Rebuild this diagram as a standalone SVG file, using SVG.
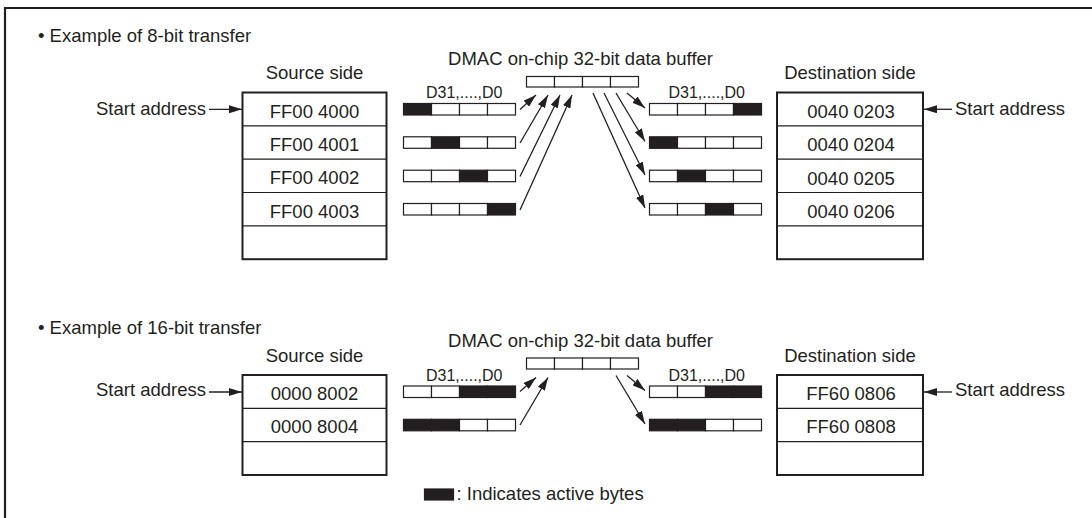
<svg xmlns="http://www.w3.org/2000/svg" width="1092" height="518" viewBox="0 0 1092 518">
<defs>
<style>
.t{font-family:"Liberation Sans",Arial,Helvetica,sans-serif;font-size:18.5px;fill:#231f20}
.s{font-size:16px}
.m{text-anchor:middle}
.box{fill:none;stroke:#231f20;stroke-width:2}
.dv{stroke:#231f20;stroke-width:1.2}
.c{fill:#fff;stroke:#231f20;stroke-width:1.2}
.on{fill:#231f20;stroke:#231f20;stroke-width:1.2}
.ar{stroke:#231f20;stroke-width:1.3;fill:none;marker-end:url(#ah)}
</style>
<marker id="ah" viewBox="0 0 13 8" markerWidth="13" markerHeight="8" refX="13" refY="4" orient="auto" markerUnits="userSpaceOnUse">
<path d="M0,0 L13,4 L0,8 z" fill="#231f20"/>
</marker>
</defs>
<rect width="1092" height="518" fill="#fff"/>
<path d="M5,518 V8 H1092" fill="none" stroke="#231f20" stroke-width="2.2"/>

<!-- ===== 8-bit transfer ===== -->
<text class="t" x="38" y="42">• Example of 8-bit transfer</text>

<g id="src8">
<text class="t m" x="314.5" y="78.5">Source side</text>
<rect class="box" x="242.5" y="92.5" width="144" height="166.7"/>
<line class="dv" x1="242.5" y1="125.8" x2="386.5" y2="125.8"/>
<line class="dv" x1="242.5" y1="159.2" x2="386.5" y2="159.2"/>
<line class="dv" x1="242.5" y1="192.5" x2="386.5" y2="192.5"/>
<line class="dv" x1="242.5" y1="225.8" x2="386.5" y2="225.8"/>
<text class="t m" x="314.5" y="117.5">FF00 4000</text>
<text class="t m" x="314.5" y="150.8">FF00 4001</text>
<text class="t m" x="314.5" y="184.2">FF00 4002</text>
<text class="t m" x="314.5" y="217.5">FF00 4003</text>
</g>

<g id="srcstart8">
<text class="t" x="96" y="115">Start address</text>
</g>

<g id="buf8">
<text class="t m" x="580.5" y="65">DMAC on-chip 32-bit data buffer</text>
<rect class="c" x="526.5" y="76.5" width="28" height="10.5"/>
<rect class="c" x="554.5" y="76.5" width="28" height="10.5"/>
<rect class="c" x="582.5" y="76.5" width="28" height="10.5"/>
<rect class="c" x="610.5" y="76.5" width="28" height="10.5"/>
</g>

<g id="srcbytes8">
<text class="t s" x="426" y="98.3">D31,....,D0</text>
<rect class="on" x="403.5" y="103.5" width="28" height="11.5"/>
<rect class="c" x="431.5" y="103.5" width="28" height="11.5"/>
<rect class="c" x="459.5" y="103.5" width="28" height="11.5"/>
<rect class="c" x="487.5" y="103.5" width="28" height="11.5"/>

<rect class="c" x="403.5" y="136.8" width="28" height="11.5"/>
<rect class="on" x="431.5" y="136.8" width="28" height="11.5"/>
<rect class="c" x="459.5" y="136.8" width="28" height="11.5"/>
<rect class="c" x="487.5" y="136.8" width="28" height="11.5"/>

<rect class="c" x="403.5" y="170.2" width="28" height="11.5"/>
<rect class="c" x="431.5" y="170.2" width="28" height="11.5"/>
<rect class="on" x="459.5" y="170.2" width="28" height="11.5"/>
<rect class="c" x="487.5" y="170.2" width="28" height="11.5"/>

<rect class="c" x="403.5" y="203.5" width="28" height="11.5"/>
<rect class="c" x="431.5" y="203.5" width="28" height="11.5"/>
<rect class="c" x="459.5" y="203.5" width="28" height="11.5"/>
<rect class="on" x="487.5" y="203.5" width="28" height="11.5"/>
</g>

<g id="dstbytes8">
<text class="t s" x="668.5" y="98.3">D31,....,D0</text>
<rect class="c" x="649.5" y="103.5" width="28" height="11.5"/>
<rect class="c" x="677.5" y="103.5" width="28" height="11.5"/>
<rect class="c" x="705.5" y="103.5" width="28" height="11.5"/>
<rect class="on" x="733.5" y="103.5" width="28" height="11.5"/>

<rect class="on" x="649.5" y="136.8" width="28" height="11.5"/>
<rect class="c" x="677.5" y="136.8" width="28" height="11.5"/>
<rect class="c" x="705.5" y="136.8" width="28" height="11.5"/>
<rect class="c" x="733.5" y="136.8" width="28" height="11.5"/>

<rect class="c" x="649.5" y="170.2" width="28" height="11.5"/>
<rect class="on" x="677.5" y="170.2" width="28" height="11.5"/>
<rect class="c" x="705.5" y="170.2" width="28" height="11.5"/>
<rect class="c" x="733.5" y="170.2" width="28" height="11.5"/>

<rect class="c" x="649.5" y="203.5" width="28" height="11.5"/>
<rect class="c" x="677.5" y="203.5" width="28" height="11.5"/>
<rect class="on" x="705.5" y="203.5" width="28" height="11.5"/>
<rect class="c" x="733.5" y="203.5" width="28" height="11.5"/>
</g>

<g id="dst8">
<text class="t m" x="850" y="79">Destination side</text>
<rect class="box" x="777" y="92.5" width="146" height="166.7"/>
<line class="dv" x1="777" y1="125.8" x2="923" y2="125.8"/>
<line class="dv" x1="777" y1="159.2" x2="923" y2="159.2"/>
<line class="dv" x1="777" y1="192.5" x2="923" y2="192.5"/>
<line class="dv" x1="777" y1="225.8" x2="923" y2="225.8"/>
<text class="t m" x="851" y="117.8">0040 0203</text>
<text class="t m" x="851" y="151.1">0040 0204</text>
<text class="t m" x="851" y="184.5">0040 0205</text>
<text class="t m" x="851" y="217.8">0040 0206</text>
</g>

<g id="dststart8">
<text class="t" x="955" y="115">Start address</text>
</g>

<!-- ===== 16-bit transfer ===== -->
<text class="t" x="38" y="334">• Example of 16-bit transfer</text>

<g id="src16">
<text class="t m" x="314.5" y="361.5">Source side</text>
<rect class="box" x="242.5" y="375" width="144" height="100"/>
<line class="dv" x1="242.5" y1="408.3" x2="386.5" y2="408.3"/>
<line class="dv" x1="242.5" y1="441.7" x2="386.5" y2="441.7"/>
<text class="t m" x="314.5" y="400">0000 8002</text>
<text class="t m" x="314.5" y="433.3">0000 8004</text>
</g>

<g id="srcstart16">
<text class="t" x="96" y="396">Start address</text>
</g>

<g id="buf16">
<text class="t m" x="580.5" y="347">DMAC on-chip 32-bit data buffer</text>
<rect class="c" x="526.5" y="358" width="28" height="11"/>
<rect class="c" x="554.5" y="358" width="28" height="11"/>
<rect class="c" x="582.5" y="358" width="28" height="11"/>
<rect class="c" x="610.5" y="358" width="28" height="11"/>
</g>

<g id="srcbytes16">
<text class="t s" x="426" y="380.8">D31,....,D0</text>
<rect class="c" x="403.5" y="386" width="28" height="11.5"/>
<rect class="c" x="431.5" y="386" width="28" height="11.5"/>
<rect class="on" x="459.5" y="386" width="28" height="11.5"/>
<rect class="on" x="487.5" y="386" width="28" height="11.5"/>

<rect class="on" x="403.5" y="419.3" width="28" height="11.5"/>
<rect class="on" x="431.5" y="419.3" width="28" height="11.5"/>
<rect class="c" x="459.5" y="419.3" width="28" height="11.5"/>
<rect class="c" x="487.5" y="419.3" width="28" height="11.5"/>
</g>

<g id="dstbytes16">
<text class="t s" x="668.5" y="380.8">D31,....,D0</text>
<rect class="c" x="649.5" y="386" width="28" height="11.5"/>
<rect class="c" x="677.5" y="386" width="28" height="11.5"/>
<rect class="on" x="705.5" y="386" width="28" height="11.5"/>
<rect class="on" x="733.5" y="386" width="28" height="11.5"/>

<rect class="on" x="649.5" y="419.3" width="28" height="11.5"/>
<rect class="on" x="677.5" y="419.3" width="28" height="11.5"/>
<rect class="c" x="705.5" y="419.3" width="28" height="11.5"/>
<rect class="c" x="733.5" y="419.3" width="28" height="11.5"/>
</g>

<g id="dst16">
<text class="t m" x="850" y="361.5">Destination side</text>
<rect class="box" x="777" y="375" width="146" height="100"/>
<line class="dv" x1="777" y1="408.3" x2="923" y2="408.3"/>
<line class="dv" x1="777" y1="441.7" x2="923" y2="441.7"/>
<text class="t m" x="851" y="399.5">FF60 0806</text>
<text class="t m" x="851" y="432.8">FF60 0808</text>
</g>

<g id="dststart16">
<text class="t" x="955" y="396">Start address</text>
</g>

<g id="legend">
<rect class="on" x="424.5" y="489" width="29" height="11"/>
<text class="t" x="456.5" y="500">: Indicates active bytes</text>
</g>

<!-- ===== connectors ===== -->
<g id="connectors">
<line class="ar" x1="209" y1="109.3" x2="242" y2="109.3"/>
<line class="ar" x1="952" y1="109.3" x2="924" y2="109.3"/>
<line class="ar" x1="520" y1="109.5" x2="536" y2="95"/>
<line class="ar" x1="520" y1="143" x2="548" y2="95"/>
<line class="ar" x1="520" y1="176.5" x2="560" y2="95"/>
<line class="ar" x1="520" y1="210" x2="572" y2="95"/>
<line class="ar" x1="627" y1="93" x2="645" y2="108"/>
<line class="ar" x1="616" y1="93" x2="645" y2="141.5"/>
<line class="ar" x1="604" y1="93" x2="645" y2="175"/>
<line class="ar" x1="593" y1="93" x2="645" y2="208"/>

<line class="ar" x1="209" y1="392" x2="242" y2="392"/>
<line class="ar" x1="952" y1="392" x2="924" y2="392"/>
<line class="ar" x1="520" y1="391.5" x2="536" y2="377.5"/>
<line class="ar" x1="520" y1="425" x2="548" y2="377.5"/>
<line class="ar" x1="627" y1="375.5" x2="645" y2="390.5"/>
<line class="ar" x1="616" y1="375.5" x2="645" y2="424"/>
</g>
</svg>
